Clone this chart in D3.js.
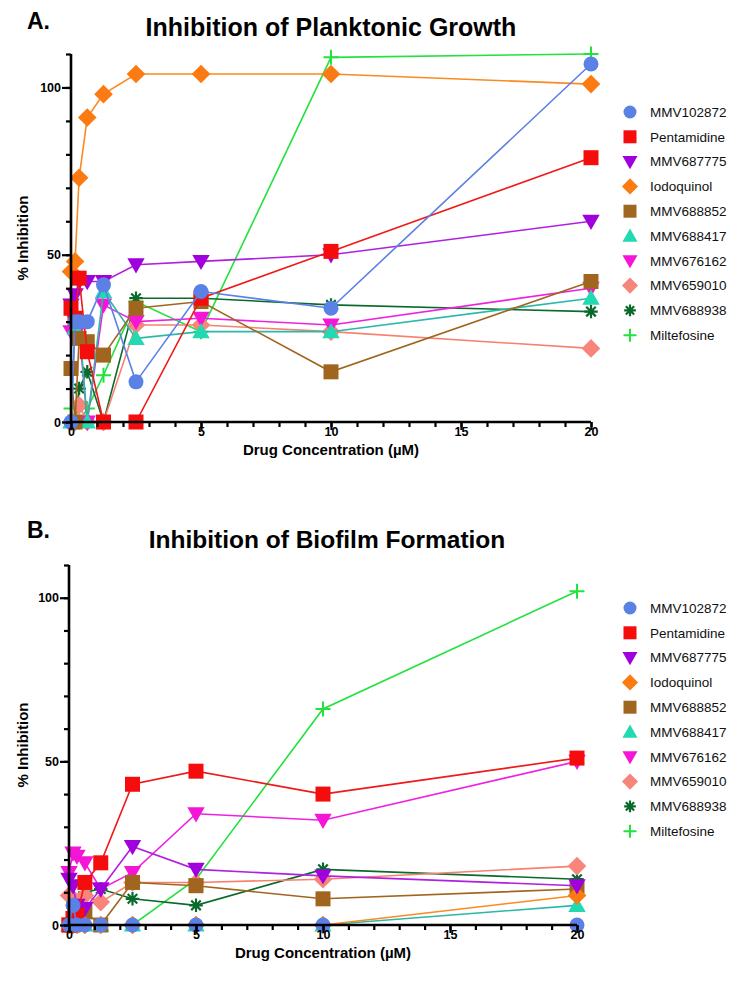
<!DOCTYPE html>
<html>
<head>
<meta charset="utf-8">
<script src="https://cdn.jsdelivr.net/npm/d3@7"></script>
<style>
  body { margin: 0; background: #fff; }
  svg { font-family: "Liberation Sans", Arial, Helvetica, sans-serif; }
</style>
</head>
<body>
<div id="chart"></div>
<script>
// drug concentrations (uM) used in both assays
var concentrations = [0, 0.156, 0.3125, 0.625, 1.25, 2.5, 5, 10, 20];

var seriesNames = ["MMV102872", "Pentamidine", "MMV687775", "Iodoquinol", "MMV688852",
                   "MMV688417", "MMV676162", "MMV659010", "MMV688938", "Miltefosine"];

// % inhibition, one row per compound (same order as seriesNames)
var planktonicValues = [
  [0, 30, 30, 30, 41, 12, 39, 34, 107],
  [34, 31, 43, 21, 0, 0, 37, 51, 79],
  [35, 38, 42, 42, 42, 47, 48, 50, 60],
  [45, 48, 73, 91, 98, 104, 104, 104, 101],
  [16, 0, 25, 24, 20, 34, 36, 15, 42],
  [0, 28, 30, 0, 39, 25, 27, 27, 37],
  [27, 30, 28, 0, 35, 30, 31, 29, 40],
  [0, 0, 5, 0, 0, 29, 29, 27, 22],
  [0, 0, 10, 15, 0, 37, 37, 35, 33],
  [4, 0, 0, 4, 14, 36, 27, 109, 110]
];

var biofilmValues = [
  [0, 6, 0, 0, 0, 0, 0, 0, 0],
  [0, 2, 3, 13, 19, 43, 47, 40, 51],
  [14, 12, 6, 5, 11, 24, 17, 15, 12],
  [0, 0, 0, 0, 0, 0, 0, 0, 9],
  [0, 0, 2, 4, 0, 13, 12, 8, 11],
  [0, 0, 0, 0, 0, 0, 0, 0, 6],
  [16, 22, 21, 19, 11, 16, 34, 32, 50],
  [9, 8, 7, 9, 7, 13, 13, 14, 18],
  [0, 3, 7, 10, 11, 8, 6, 17, 14],
  [0, 0, 0, 0, 0, 0, 14, 66, 102]
];

var xMajorTicks = [0, 5, 10, 15, 20];
var yMajorTicks = [0, 50, 100];

// styling
var colors = ["#5b80e6", "#f50d0d", "#a000dc", "#fb7a12", "#a0661f",
              "#22d9b2", "#f515d6", "#f8857a", "#0a6a2c", "#22e23e"];
var lineColors = ["#5b80e6", "#f01818", "#b020e0", "#fb8a22", "#a0661f",
                  "#2ab8a8", "#f020e0", "#f8806f", "#0a6a2c", "#22e23e"];
var shapes = ["circle", "square", "tdown", "diamond", "square",
              "tup", "tdown", "diamond", "star", "plus"];

var svg = d3.select("#chart").append("svg")
    .attr("width", 743)
    .attr("height", 986);

function symbolPath(shape, s) {
  // s = marker size in px
  if (shape == "circle") return d3.symbol(d3.symbolCircle, Math.PI * (s/2) * (s/2))();
  if (shape == "square") return d3.symbol(d3.symbolSquare, s * s)();
  if (shape == "diamond") {
    var h = s * 0.62;
    return "M0," + (-h) + "L" + h + ",0L0," + h + "L" + (-h) + ",0Z";
  }
  if (shape == "tup") {
    var a = s * 0.58;
    return "M0," + (-a) + "L" + a + "," + (a*0.75) + "L" + (-a) + "," + (a*0.75) + "Z";
  }
  if (shape == "tdown") {
    var b = s * 0.58;
    return "M0," + b + "L" + b + "," + (-b*0.75) + "L" + (-b) + "," + (-b*0.75) + "Z";
  }
  if (shape == "plus") {
    var p = s * 0.5;
    return "M" + (-p) + ",0H" + p + "M0," + (-p) + "V" + p;
  }
  if (shape == "star") {
    var r = s * 0.45, d = "";
    for (var k = 0; k < 4; k++) {
      var ang = k * Math.PI / 4;
      d += "M" + (-r*Math.cos(ang)) + "," + (-r*Math.sin(ang)) + "L" + (r*Math.cos(ang)) + "," + (r*Math.sin(ang));
    }
    return d;
  }
}

function drawMarker(g, shape, color, s) {
  var p = g.append("path").attr("d", symbolPath(shape, s));
  if (shape == "plus" || shape == "star") {
    p.attr("fill", "none").attr("stroke", color).attr("stroke-width", shape == "star" ? 2.2 : 2);
  } else {
    p.attr("fill", color);
  }
  return p;
}

function drawPanel(opts, values) {
  var x = d3.scaleLinear().domain([0, 20]).range([opts.left, opts.right]);
  var y = d3.scaleLinear().domain([0, 110]).range([opts.bottom, opts.top]);

  // panel letter and title
  svg.append("text")
    .attr("x", 27).attr("y", opts.letterY)
    .style("font-size", "23px").style("font-weight", "bold")
    .text(opts.letter);
  svg.append("text")
    .attr("x", opts.titleX).attr("y", opts.titleY)
    .attr("text-anchor", "middle")
    .style("font-size", opts.titleSize).style("font-weight", "bold")
    .text(opts.title);

  // data lines and markers, first series drawn last (on top)
  var line = d3.line()
      .x(function(d) { return x(d[0]); })
      .y(function(d) { return y(d[1]); });

  for (var i = seriesNames.length - 1; i >= 0; i--) {
    var pts = concentrations.map(function(c, j) { return [c, values[i][j]]; });
    var g = svg.append("g").attr("class", "series");
    g.append("path")
      .datum(pts)
      .attr("d", line)
      .attr("fill", "none")
      .attr("stroke", lineColors[i])
      .attr("stroke-width", 1.6);
    pts.forEach(function(d) {
      var m = drawMarker(g, shapes[i], colors[i], 15);
      m.attr("transform", "translate(" + x(d[0]) + "," + y(d[1]) + ")");
    });
  }

  // y axis: minor then major
  var yMinor = d3.axisLeft(y).tickValues(d3.range(0, 111, 10)).tickSize(5).tickFormat("");
  var yMajor = d3.axisLeft(y).tickValues(yMajorTicks).tickSize(9).tickPadding(1);
  var gy1 = svg.append("g").attr("transform", "translate(" + opts.left + ",0)").call(yMinor);
  var gy2 = svg.append("g").attr("transform", "translate(" + opts.left + ",0)").call(yMajor);

  var xMinor = d3.axisBottom(x).tickValues(d3.range(0, 21, 1)).tickSize(5).tickFormat("");
  var xMajor = d3.axisBottom(x).tickValues(xMajorTicks).tickSize(8).tickPadding(0);
  var gx1 = svg.append("g").attr("transform", "translate(0," + opts.bottom + ")").call(xMinor);
  var gx2 = svg.append("g").attr("transform", "translate(0," + opts.bottom + ")").call(xMajor);

  [gy1, gy2, gx1, gx2].forEach(function(ax) {
    ax.select(".domain").attr("stroke", "#000").attr("stroke-width", 2.6);
    ax.selectAll(".tick line").attr("stroke", "#000").attr("stroke-width", 2.2);
    ax.selectAll(".tick text")
      .attr("fill", "#000")
      .style("font-size", "12.5px").style("font-weight", "bold")
      .style("font-family", "'Liberation Sans', Arial, sans-serif");
  });
  gy1.select(".domain").attr("d", "M0," + opts.top + "V" + opts.bottom);
  gy2.select(".domain").remove();
  gx1.select(".domain").attr("d", "M" + opts.left + ",0H" + opts.right);
  gx2.select(".domain").remove();
  gx2.selectAll(".tick text").attr("dy", "0.5em");

  // axis titles
  svg.append("text")
    .attr("transform", "rotate(-90)")
    .attr("x", -(opts.top + opts.bottom) / 2)
    .attr("y", 28)
    .attr("text-anchor", "middle")
    .style("font-size", "15px").style("font-weight", "bold")
    .text("% Inhibition");
  svg.append("text")
    .attr("x", (opts.left + opts.right) / 2)
    .attr("y", opts.bottom + 33)
    .attr("text-anchor", "middle")
    .style("font-size", "15px").style("font-weight", "bold")
    .text("Drug Concentration (\u00b5M)");

  // legend
  seriesNames.forEach(function(name, i) {
    var ly = opts.legendTop + i * 24.8;
    var lg = svg.append("g").attr("transform", "translate(630," + ly + ")");
    drawMarker(lg, shapes[i], colors[i], 13);
    svg.append("text")
      .attr("x", 650).attr("y", ly)
      .attr("dy", "0.35em")
      .style("font-size", "13.5px")
      .attr("fill", "#111")
      .text(name);
  });
}

drawPanel({letter: "A.", letterY: 29, title: "Inhibition of Planktonic Growth", titleX: 331,
           titleY: 36, titleSize: "25px",
           left: 71, right: 591, top: 54, bottom: 422, legendTop: 112}, planktonicValues);
drawPanel({letter: "B.", letterY: 538, title: "Inhibition of Biofilm Formation", titleX: 327,
           titleY: 548, titleSize: "24.5px",
           left: 69, right: 577, top: 565, bottom: 925, legendTop: 608}, biofilmValues);
</script>
</body>
</html>
